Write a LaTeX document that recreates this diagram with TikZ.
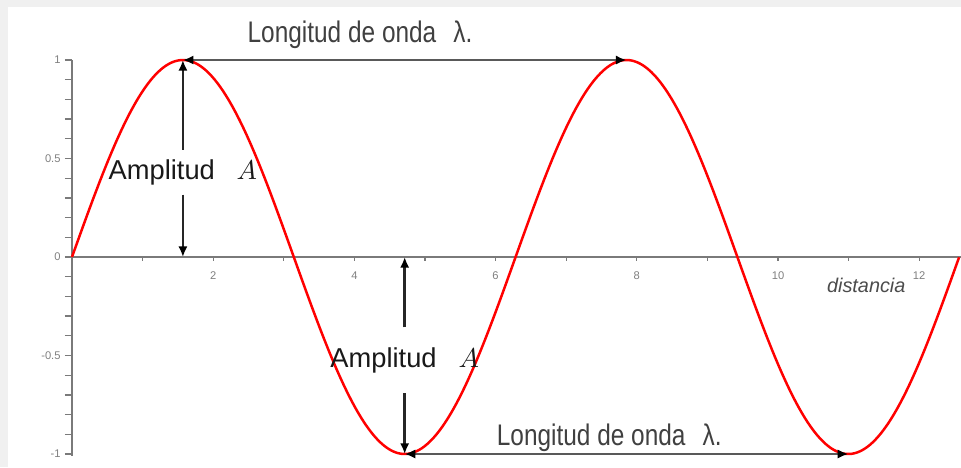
\documentclass[tikz,border=0pt]{standalone}
\usepackage{fontspec}
\setmainfont{Liberation Sans}
\usetikzlibrary{arrows.meta, calc}
\definecolor{framegray}{HTML}{F0F0F0}
\definecolor{axisgray}{HTML}{7A7A7A}
\tikzset{
  axis/.style={draw=axisgray, line width=0.8pt},
  wave/.style={draw=red, line width=1pt},
  dimarr/.style={{Latex[length=1.5mm,width=1.3mm,color=black]}-{Latex[length=1.5mm,width=1.3mm,color=black]}, line width=1.1pt, draw=black!65},
  halfarr/.style={-{Latex[length=1.5mm,width=1.3mm,color=black]}, line width=1pt, draw=black!85},
  ticklbl/.style={font=\fontsize{4.5}{5}\selectfont, text=gray, inner sep=1pt},
  lambdalbl/.style={font=\fontsize{12}{14}\selectfont, text=black!75, xscale=0.82},
  amplbl/.style={font=\fontsize{11}{13}\selectfont, text=black!90, inner sep=0pt},
}

\begin{document}
\begin{tikzpicture}[x=1cm, y=2.7904cm]
  % frame
  \fill[framegray] (-1.0198,-1.066) rectangle (12.592,1.3046);
  \fill[white] (-0.9065,-1.066) rectangle (12.592,1.269);
  \useasboundingbox (-1.0198,-1.066) rectangle (12.592,1.3046);

  % axes
  \draw[axis] (0,-1.01) -- (0,1);
  \draw[axis] (0,0) -- (12.592,0);
  \foreach \t in {-10,...,10}
    \draw[axis, line width=0.5pt] (-0.1,\t/10) -- (0,\t/10);
  \foreach \k in {1,...,12}
    \draw[axis, line width=0.5pt] (\k,0) -- (\k,-0.02);
  \foreach \k in {2,4,...,12}
    \node[ticklbl] (xl\k) at (\k,-0.096) {\k};
  \foreach \v/\s in {1/1, 0.5/0.5, 0/0, -0.5/-0.5, -1/-1}
    \node[ticklbl, anchor=east] (yl\s) at (-0.12,\v) {\s};
  \node[font=\fontsize{8}{9}\selectfont\itshape, text=black!70] (dist) at (11.25,-0.142) {distancia};

  % wave
  \draw[wave, domain=0:12.566, samples=200, smooth] plot (\x, {sin(\x r)});

  % key points
  \coordinate (pk1) at ({pi/2},1);
  \coordinate (pk2) at ({5*pi/2},1);
  \coordinate (tr1) at ({3*pi/2},-1);
  \coordinate (tr2) at ({7*pi/2},-1);
  \coordinate (ax1) at ({pi/2},0);
  \coordinate (ax2) at ({3*pi/2},0);

  % labels
  \node[lambdalbl] (lam1) at (4.08,1.127) {Longitud de onda\hspace{0.7em}λ.};
  \node[lambdalbl] (lam2) at (7.61,-0.919) {Longitud de onda\hspace{0.7em}λ.};
  \node[amplbl, minimum height=0.62cm] (amp1) at ({pi/2},0.43) {Amplitud\hspace{0.8em}$A$};
  \node[amplbl, minimum height=0.92cm] (amp2) at ({3*pi/2},-0.525) {Amplitud\hspace{0.8em}$A$};

  % arrows
  \draw[dimarr] (pk1) -- (pk2);
  \draw[dimarr] (tr1) -- (tr2);
  \draw[halfarr] (amp1.north) -- (pk1);
  \draw[halfarr] (amp1.south) -- (ax1);
  \draw[halfarr] (amp2.north) -- (ax2);
  \draw[halfarr] (amp2.south) -- (tr1);
\end{tikzpicture}
\end{document}
